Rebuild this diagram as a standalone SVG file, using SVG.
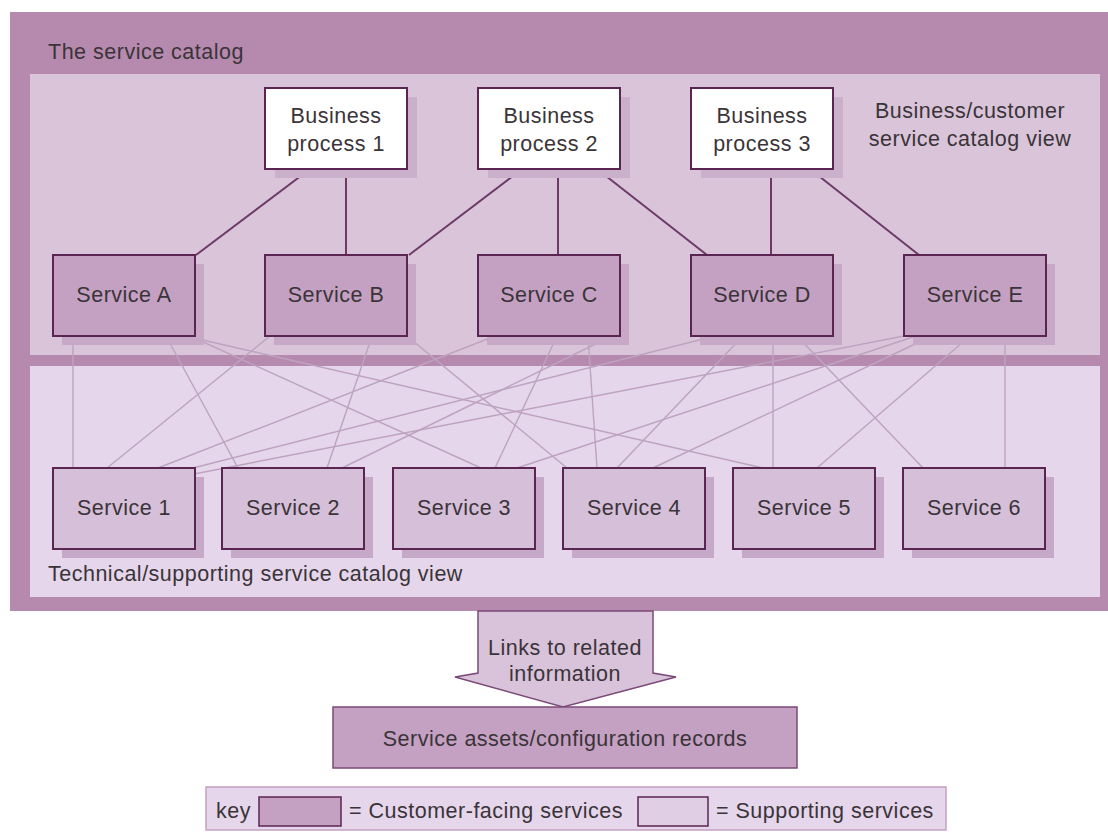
<svg xmlns="http://www.w3.org/2000/svg" width="1108" height="832" viewBox="0 0 1108 832">
<style>
.t{font-family:"Liberation Sans",Arial,sans-serif;font-size:21.5px;letter-spacing:0.5px;fill:#3a3438}
.c{text-anchor:middle}
.cust{fill:#c4a1c2;stroke:#5b2553;stroke-width:2}
.supp{fill:#d6bfd8;stroke:#5b2553;stroke-width:2}
.bp{fill:#ffffff;stroke:#5b2553;stroke-width:2}
.shU{fill:#c7a9c7}
.shB{fill:#cbb0cb}
.shL{fill:#c6a8c8}
.link{stroke:#6d3a68;stroke-width:2;fill:none}
.x{stroke:#bda3c0;stroke-width:1.4;fill:none}
</style>
<rect x="0" y="0" width="1108" height="832" fill="#ffffff"/>
<g id="catalog">
<rect x="10" y="12" width="1100" height="599" fill="#b68aae"/>
<rect x="30" y="74" width="1070" height="281" fill="#d9c4d9"/>
<rect x="30" y="366" width="1070" height="231" fill="#e5d6eb"/>
<text class="t" x="48" y="59">The service catalog</text>
<text class="t c" x="970" y="118">Business/customer</text>
<text class="t c" x="970" y="146">service catalog view</text>
<text class="t" x="48" y="581">Technical/supporting service catalog view</text>
</g>
<g id="connectors">
<line class="link" x1="310" y1="169" x2="196" y2="255"/>
<line class="link" x1="346" y1="169" x2="346" y2="255"/>
<line class="link" x1="522" y1="169" x2="409" y2="255"/>
<line class="link" x1="558" y1="169" x2="558" y2="255"/>
<line class="link" x1="597" y1="169" x2="707" y2="255"/>
<line class="link" x1="771" y1="169" x2="771" y2="255"/>
<line class="link" x1="810" y1="169" x2="919" y2="255"/>
<line class="x" x1="73" y1="336" x2="73" y2="468"/>
<line class="x" x1="166" y1="336" x2="238" y2="468"/>
<line class="x" x1="190" y1="336" x2="481" y2="468"/>
<line class="x" x1="194" y1="338" x2="763" y2="468"/>
<line class="x" x1="270" y1="336" x2="107" y2="468"/>
<line class="x" x1="372" y1="336" x2="327" y2="468"/>
<line class="x" x1="407" y1="336" x2="567" y2="468"/>
<line class="x" x1="495" y1="336" x2="158" y2="468"/>
<line class="x" x1="557" y1="336" x2="495" y2="468"/>
<line class="x" x1="588" y1="336" x2="597" y2="468"/>
<line class="x" x1="612" y1="336" x2="342" y2="468"/>
<line class="x" x1="715" y1="336" x2="193" y2="468"/>
<line class="x" x1="743" y1="336" x2="617" y2="468"/>
<line class="x" x1="773" y1="336" x2="773" y2="468"/>
<line class="x" x1="797" y1="336" x2="923" y2="468"/>
<line class="x" x1="904" y1="336" x2="194" y2="474"/>
<line class="x" x1="916" y1="336" x2="517" y2="468"/>
<line class="x" x1="932" y1="336" x2="653" y2="468"/>
<line class="x" x1="970" y1="336" x2="817" y2="468"/>
<line class="x" x1="1005" y1="336" x2="1005" y2="468"/>
</g>
<g id="bp1"><rect class="shB" x="275" y="97" width="142" height="81"/><rect class="bp" x="265" y="88" width="142" height="81"/><text class="t c" x="336" y="123">Business</text><text class="t c" x="336" y="151">process 1</text></g>
<g id="bp2"><rect class="shB" x="488" y="97" width="142" height="81"/><rect class="bp" x="478" y="88" width="142" height="81"/><text class="t c" x="549" y="123">Business</text><text class="t c" x="549" y="151">process 2</text></g>
<g id="bp3"><rect class="shB" x="701" y="97" width="142" height="81"/><rect class="bp" x="691" y="88" width="142" height="81"/><text class="t c" x="762" y="123">Business</text><text class="t c" x="762" y="151">process 3</text></g>
<g id="serviceA"><rect class="shU" x="62" y="264" width="142" height="81"/><rect class="cust" x="53" y="255" width="142" height="81"/><text class="t c" x="124" y="302">Service A</text></g>
<g id="serviceB"><rect class="shU" x="274" y="264" width="142" height="81"/><rect class="cust" x="265" y="255" width="142" height="81"/><text class="t c" x="336" y="302">Service B</text></g>
<g id="serviceC"><rect class="shU" x="487" y="264" width="142" height="81"/><rect class="cust" x="478" y="255" width="142" height="81"/><text class="t c" x="549" y="302">Service C</text></g>
<g id="serviceD"><rect class="shU" x="700" y="264" width="142" height="81"/><rect class="cust" x="691" y="255" width="142" height="81"/><text class="t c" x="762" y="302">Service D</text></g>
<g id="serviceE"><rect class="shU" x="913" y="264" width="142" height="81"/><rect class="cust" x="904" y="255" width="142" height="81"/><text class="t c" x="975" y="302">Service E</text></g>
<g id="service1"><rect class="shL" x="62" y="477" width="142" height="81"/><rect class="supp" x="53" y="468" width="142" height="81"/><text class="t c" x="124" y="515">Service 1</text></g>
<g id="service2"><rect class="shL" x="231" y="477" width="142" height="81"/><rect class="supp" x="222" y="468" width="142" height="81"/><text class="t c" x="293" y="515">Service 2</text></g>
<g id="service3"><rect class="shL" x="402" y="477" width="142" height="81"/><rect class="supp" x="393" y="468" width="142" height="81"/><text class="t c" x="464" y="515">Service 3</text></g>
<g id="service4"><rect class="shL" x="572" y="477" width="142" height="81"/><rect class="supp" x="563" y="468" width="142" height="81"/><text class="t c" x="634" y="515">Service 4</text></g>
<g id="service5"><rect class="shL" x="742" y="477" width="142" height="81"/><rect class="supp" x="733" y="468" width="142" height="81"/><text class="t c" x="804" y="515">Service 5</text></g>
<g id="service6"><rect class="shL" x="912" y="477" width="142" height="81"/><rect class="supp" x="903" y="468" width="142" height="81"/><text class="t c" x="974" y="515">Service 6</text></g>
<g id="arrow">
<polygon points="478,611 653,611 653,673 676,677 563,707 455,677 478,673" fill="#d8c3da" stroke="#7b4a78" stroke-width="1.5" stroke-linejoin="miter"/>
<text class="t c" x="565" y="655">Links to related</text>
<text class="t c" x="565" y="681">information</text>
</g>
<g id="assets">
<rect x="333" y="707" width="464" height="61" fill="#c4a1c2" stroke="#7b4a78" stroke-width="1.5"/>
<text class="t c" x="565" y="746">Service assets/configuration records</text>
</g>
<g id="key">
<rect x="206" y="787" width="740" height="43" fill="#e5d6eb" stroke="#c4a0c2" stroke-width="1.5"/>
<text class="t" x="216" y="818">key</text>
<rect x="259" y="797" width="82" height="29" fill="#c4a1c2" stroke="#5b2553" stroke-width="1.5"/>
<text class="t" x="349" y="818">= Customer-facing services</text>
<rect x="638" y="797" width="70" height="29" fill="#e0cfe4" stroke="#5b2553" stroke-width="1.5"/>
<text class="t" x="716" y="818">= Supporting services</text>
</g>
</svg>
